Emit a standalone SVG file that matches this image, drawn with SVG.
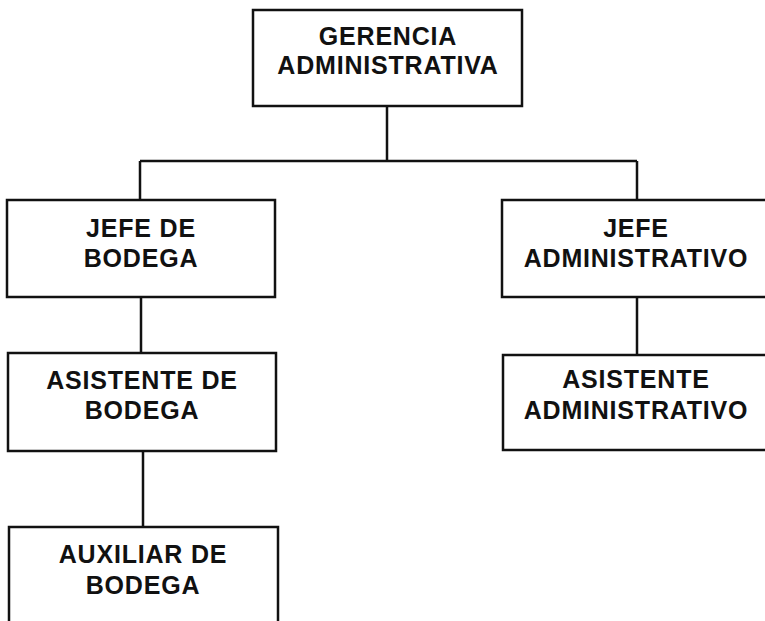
<svg xmlns="http://www.w3.org/2000/svg" width="765" height="621" viewBox="0 0 765 621">
<style>
.box{fill:#fff;stroke:#111;stroke-width:2.5}
.con{fill:none;stroke:#111;stroke-width:2.5}
text{font-family:"Liberation Sans",Arial,sans-serif;font-weight:bold;font-size:25px;letter-spacing:0.8px;fill:#111;text-anchor:middle}
</style>
<rect width="765" height="621" fill="#fff"/>
<g id="connectors">
<path class="con" d="M387 106V161M140 161H637M140 161V200M637 161V200M141 297V353M143 451V527M637 297V355"/>
</g>
<g id="gerencia">
<rect class="box" x="253" y="10" width="269" height="96"/>
<text x="388" y="45">GERENCIA</text>
<text x="388" y="74">ADMINISTRATIVA</text>
</g>
<g id="jefe-bodega">
<rect class="box" x="7" y="200" width="268" height="97"/>
<text x="141" y="237">JEFE DE</text>
<text x="141" y="267">BODEGA</text>
</g>
<g id="asistente-bodega">
<rect class="box" x="8" y="353" width="268" height="98"/>
<text x="142" y="389">ASISTENTE DE</text>
<text x="142" y="419">BODEGA</text>
</g>
<g id="auxiliar-bodega">
<rect class="box" x="9" y="527" width="269" height="110"/>
<text x="143" y="563">AUXILIAR DE</text>
<text x="143" y="594">BODEGA</text>
</g>
<g id="jefe-administrativo">
<rect class="box" x="502" y="200" width="275" height="97"/>
<text x="636" y="237">JEFE</text>
<text x="636" y="267">ADMINISTRATIVO</text>
</g>
<g id="asistente-administrativo">
<rect class="box" x="503" y="355" width="275" height="95"/>
<text x="636" y="388">ASISTENTE</text>
<text x="636" y="419">ADMINISTRATIVO</text>
</g>
</svg>
